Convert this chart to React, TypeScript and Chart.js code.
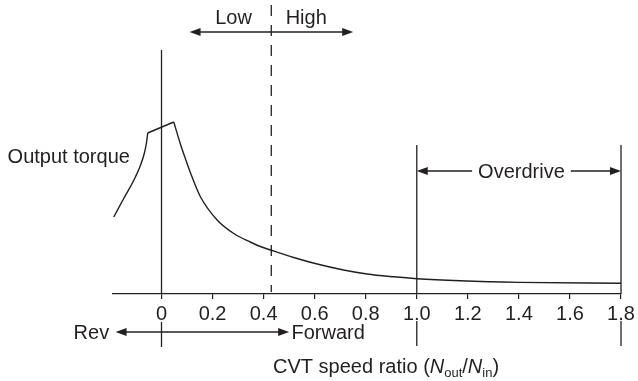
import React, { useEffect, useRef } from 'react';
import { Chart, registerables } from 'chart.js';

Chart.register(...registerables);

// ---- data ----
const xTickValues = [0, 0.2, 0.4, 0.6, 0.8, 1.0, 1.2, 1.4, 1.6, 1.8];
const xTickLabels = ['0', '0.2', '0.4', '0.6', '0.8', '1.0', '1.2', '1.4', '1.6', '1.8'];

const riseRatio = [-0.187, -0.147, -0.108, -0.082, -0.067, -0.059, -0.054];
const riseTorque = [77, 96, 114, 129, 141, 151, 161];

const kinkRatio = [-0.054, 0.048];
const kinkTorque = [161, 172];

const decayRatio = [0.048, 0.074, 0.094, 0.113, 0.153, 0.218, 0.283, 0.348, 0.387, 0.433, 0.518, 0.602, 0.713, 0.805, 0.909, 1.0, 1.17, 1.4, 1.8];
const decayTorque = [172, 150, 135, 121.5, 97, 74, 60.5, 52, 47.5, 43.5, 36.5, 30.5, 24, 20, 17.2, 15.3, 13.2, 11.6, 10.7];

const boundaryRatio = 0.43;
const overdriveRatios = [1.0, 1.8];

const INK = '#231f20';
const FONT = '"Liberation Sans", Arial, Helvetica, sans-serif';

const toPoints = (xs: number[], ys: number[]) => xs.map((x, i) => ({ x, y: ys[i] }));

const annotationPlugin = {
  id: 'cvtAnnotations',
  afterDraw(chart: any) {
    const { ctx, chartArea, scales } = chart;
    const xs = scales.x;
    const ys = scales.y;
    const px = (v: number) => xs.getPixelForValue(v);
    const py = (v: number) => ys.getPixelForValue(v);
    const base = chartArea.bottom;

    ctx.save();
    ctx.strokeStyle = INK;
    ctx.fillStyle = INK;
    ctx.lineWidth = 1.3;

    const vline = (x: number, y1: number, y2: number) => {
      ctx.beginPath();
      ctx.moveTo(x, y1);
      ctx.lineTo(x, y2);
      ctx.stroke();
    };
    const head = (tipX: number, y: number, dir: number) => {
      ctx.beginPath();
      ctx.moveTo(tipX, y);
      ctx.lineTo(tipX - dir * 11, y - 4);
      ctx.lineTo(tipX - dir * 11, y + 4);
      ctx.closePath();
      ctx.fill();
    };
    const hline = (x1: number, x2: number, y: number) => {
      ctx.beginPath();
      ctx.moveTo(x1, y);
      ctx.lineTo(x2, y);
      ctx.stroke();
    };
    const arrow = (x1: number, x2: number, y: number) => {
      hline(x1 + 4, x2 - 4, y);
      head(x1, y, -1);
      head(x2, y, 1);
    };

    // vertical reference lines
    const x0 = px(0);
    vline(x0, py(244), base);
    vline(x0, base + 28, base + 53);
    overdriveRatios.forEach((r) => {
      vline(px(r), py(149), base);
      vline(px(r), base + 27, base + 52);
    });

    // dashed Low/High boundary
    ctx.setLineDash([11, 9]);
    vline(px(boundaryRatio), chartArea.top, base - 2);
    ctx.setLineDash([]);

    ctx.font = `20px ${FONT}`;
    ctx.textBaseline = 'alphabetic';

    // Low / High
    arrow(px(0.11), px(0.751), py(262));
    ctx.textAlign = 'center';
    ctx.fillText('Low', px(0.282), py(270));
    ctx.fillText('High', px(0.567), py(270));

    // Output torque
    ctx.textAlign = 'left';
    ctx.fillText('Output torque', px(-0.603), py(131));

    // Overdrive
    const odY = py(123);
    const odL = px(overdriveRatios[0]);
    const odR = px(overdriveRatios[1]);
    const odMid = px(1.41);
    const odW = ctx.measureText('Overdrive').width;
    ctx.textAlign = 'center';
    ctx.fillText('Overdrive', odMid, odY + 7);
    hline(odL + 4, odMid - odW / 2 - 6, odY);
    hline(odMid + odW / 2 + 6, odR - 4, odY);
    head(odL, odY, -1);
    head(odR, odY, 1);

    // Rev / Forward
    const rfY = base + 38;
    arrow(px(-0.18), px(0.50), rfY);
    ctx.textAlign = 'right';
    ctx.fillText('Rev', px(-0.205), rfY + 7);
    ctx.textAlign = 'left';
    ctx.fillText('Forward', px(0.509), rfY + 7);

    // Axis title: CVT speed ratio (N_out/N_in)
    let tx = px(0.437);
    const ty = base + 79;
    const part = (s: string, font: string, dy = 0) => {
      ctx.font = font;
      ctx.fillText(s, tx, ty + dy);
      tx += ctx.measureText(s).width;
    };
    ctx.textAlign = 'left';
    const normal = `20px ${FONT}`;
    const italic = `italic 20px ${FONT}`;
    const sub = `13px ${FONT}`;
    part('CVT speed ratio (', normal);
    part('N', italic);
    part('out', sub, 4);
    part('/', normal);
    part('N', italic);
    part('in', sub, 4);
    part(')', normal);

    ctx.restore();
  },
};

export default function App() {
  const ref = useRef<HTMLCanvasElement | null>(null);

  useEffect(() => {
    if (!ref.current) return;
    const lineStyle = {
      borderColor: INK,
      borderWidth: 1.4,
      pointRadius: 0,
      showLine: true,
      fill: false,
    };
    const chart = new Chart(ref.current, {
      type: 'scatter',
      data: {
        datasets: [
          { ...lineStyle, data: toPoints(riseRatio, riseTorque), cubicInterpolationMode: 'monotone' },
          { ...lineStyle, data: toPoints(kinkRatio, kinkTorque), tension: 0 },
          { ...lineStyle, data: toPoints(decayRatio, decayTorque), cubicInterpolationMode: 'monotone' },
        ],
      } as any,
      options: {
        animation: false,
        responsive: false,
        devicePixelRatio: 1,
        layout: { padding: { left: 113, right: 17, top: 5, bottom: 0 } },
        plugins: { legend: { display: false }, tooltip: { enabled: false } },
        scales: {
          x: {
            type: 'linear',
            min: -0.19,
            max: 1.8,
            afterBuildTicks: (scale: any) => {
              scale.ticks = xTickValues.map((v) => ({ value: v }));
            },
            afterFit: (scale: any) => {
              scale.height = 87;
            },
            ticks: {
              autoSkip: false,
              maxRotation: 0,
              padding: 3,
              color: INK,
              font: { family: FONT, size: 20 },
              callback: (_v: any, i: number) => xTickLabels[i],
            },
            grid: {
              drawOnChartArea: false,
              drawTicks: true,
              tickLength: 5,
              color: INK,
              lineWidth: 1.2,
            },
            border: { display: true, color: INK, width: 1.3 },
          },
          y: {
            type: 'linear',
            min: 0,
            max: 289,
            display: false,
          },
        },
      } as any,
      plugins: [annotationPlugin],
    });
    return () => chart.destroy();
  }, []);

  return (
    <div style={{ position: 'fixed', left: 0, top: 0, width: 638, height: 381, background: '#fff' }}>
      <canvas ref={ref} width={638} height={381} style={{ display: 'block', width: 638, height: 381 }} />
    </div>
  );
}
